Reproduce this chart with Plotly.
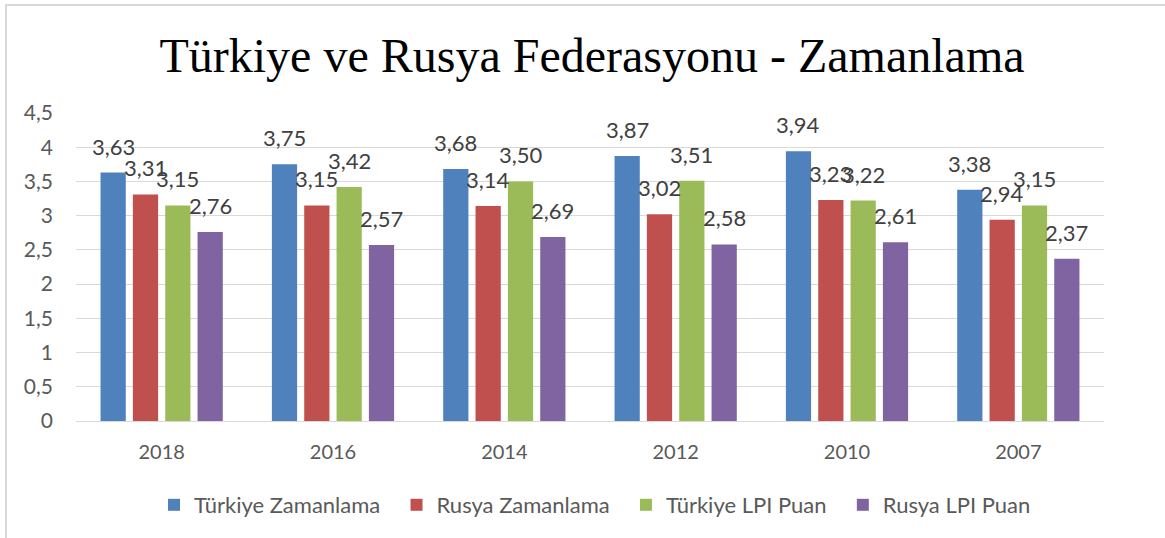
import plotly.graph_objects as go

# Survey years, newest first
years = ["2018", "2016", "2014", "2012", "2010", "2007"]

# Scores per series
turkiye_zamanlama = [3.63, 3.75, 3.68, 3.87, 3.94, 3.38]
rusya_zamanlama = [3.31, 3.15, 3.14, 3.02, 3.23, 2.94]
turkiye_lpi = [3.15, 3.42, 3.50, 3.51, 3.22, 3.15]
rusya_lpi = [2.76, 2.57, 2.69, 2.58, 2.61, 2.37]

series_names = ["Türkiye Zamanlama", "Rusya Zamanlama", "Türkiye LPI Puan", "Rusya LPI Puan"]
series_values = [turkiye_zamanlama, rusya_zamanlama, turkiye_lpi, rusya_lpi]
series_colors = ["#4F81BD", "#C0504D", "#9BBB59", "#8064A2"]

W, H = 1165, 538
ML, MR, MT, MB = 76, 61, 113, 117
pw = W - ML - MR
ph = H - MT - MB

FONT = "Lato"
BARGAP = 0.245
BARGROUPGAP = 0.22

fig = go.Figure()
n = len(series_names)
slot = (1 - BARGAP) / n
annotations = []
for k, (name, vals, color) in enumerate(zip(series_names, series_values, series_colors)):
    # a little extra room after every legend entry except the last
    legend_name = name + ("\u00a0" * 2 if k < n - 1 else "")
    fig.add_trace(go.Bar(
        x=years, y=vals, name=legend_name,
        marker=dict(color=color, line=dict(width=0)),
    ))
    # value labels centred over each bar, lifted a bit above its top
    offset = -(1 - BARGAP) / 2 + slot * (k + 0.5)
    for i, v in enumerate(vals):
        annotations.append(dict(
            x=i + offset, y=v, xref="x", yref="y",
            text=f"{v:.2f}".replace(".", ","), showarrow=False,
            xanchor="center", yanchor="bottom", yshift=11,
            font=dict(family=FONT, size=22, color="#404040"),
        ))

fig.update_layout(
    width=W, height=H,
    margin=dict(l=ML, r=MR, t=MT, b=MB),
    paper_bgcolor="white", plot_bgcolor="white",
    separators=", ",
    barmode="group", bargap=BARGAP, bargroupgap=BARGROUPGAP,
    title=dict(
        text="Türkiye ve Rusya Federasyonu - Zamanlama",
        font=dict(family="Liberation Serif", size=48, color="black"),
        x=592 / W, xanchor="center", xref="container",
        y=1 - 55 / H, yanchor="middle", yref="container",
    ),
    xaxis=dict(
        showgrid=False, showline=True, linecolor="#d9d9d9", linewidth=1,
        ticks="", tickfont=dict(family=FONT, size=20, color="#595959"),
        ticklabelstandoff=13,
    ),
    yaxis=dict(
        range=[0, 4.5], dtick=0.5, showgrid=True, gridcolor="#d9d9d9",
        gridwidth=1, zeroline=False, showline=False, ticks="",
        tickfont=dict(family=FONT, size=21, color="#595959"),
        ticklabelstandoff=22,
    ),
    legend=dict(
        orientation="h", x=(595 - ML) / pw, xanchor="center",
        y=(421 - 505) / ph, yanchor="middle",
        font=dict(family=FONT, size=22, color="#595959"),
        itemwidth=30, traceorder="normal",
    ),
    annotations=annotations,
    shapes=[dict(
        type="rect", xref="paper", yref="paper",
        x0=(6 - ML) / pw, x1=(W + 30 - ML) / pw,
        y0=(H - MB - (H + 30)) / ph, y1=(H - MB - 5) / ph,
        line=dict(color="#d9d9d9", width=2), fillcolor="rgba(0,0,0,0)",
        layer="below",
    )],
)

fig.write_html("out.html")
